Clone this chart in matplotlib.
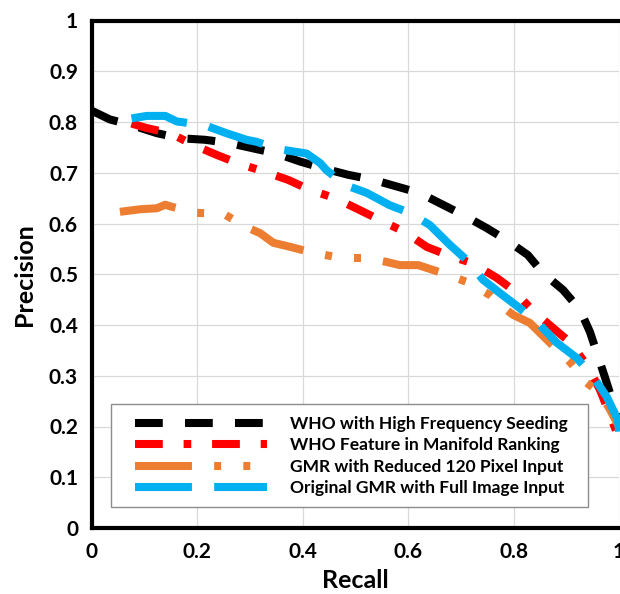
import matplotlib
matplotlib.use("Agg")
import matplotlib.pyplot as plt
from matplotlib.patches import Rectangle

plt.rcParams['font.family'] = ['Lato', 'DejaVu Sans']
plt.rcParams['lines.scale_dashes'] = False

# ---- data ----
labels = ["WHO with High Frequency Seeding",
          "WHO Feature in Manifold Ranking",
          "GMR with Reduced 120 Pixel Input",
          "Original GMR with Full Image Input"]

black_recall = [0, 0.034, 0.075, 0.123, 0.167, 0.214, 0.258, 0.306, 0.350, 0.395, 0.438, 0.486,
                0.534, 0.578, 0.622, 0.66, 0.704, 0.749, 0.787, 0.827, 0.856, 0.894, 0.926,
                0.945, 0.958, 0.973, 0.989, 1.0]
black_prec = [0.822, 0.805, 0.794, 0.778, 0.768, 0.765, 0.759, 0.748, 0.738, 0.722, 0.709, 0.696,
              0.686, 0.673, 0.660, 0.640, 0.617, 0.591, 0.567, 0.538, 0.502, 0.469, 0.430,
              0.386, 0.345, 0.298, 0.246, 0.20]

red_recall = [0.075, 0.104, 0.148, 0.192, 0.237, 0.281, 0.325, 0.372, 0.414, 0.461, 0.507, 0.546,
              0.594, 0.635, 0.674, 0.721, 0.768, 0.799, 0.835, 0.875, 0.907, 0.939, 0.964,
              0.977, 0.995]
red_prec = [0.797, 0.788, 0.778, 0.755, 0.735, 0.717, 0.703, 0.686, 0.666, 0.650, 0.627, 0.607,
            0.583, 0.554, 0.538, 0.522, 0.493, 0.469, 0.430, 0.394, 0.366, 0.321, 0.272,
            0.238, 0.19]

orange_recall = [0.053, 0.091, 0.123, 0.139, 0.151, 0.199, 0.250, 0.290, 0.319, 0.344, 0.376,
                 0.420, 0.474, 0.522, 0.560, 0.584, 0.619, 0.666, 0.711, 0.755, 0.780, 0.799,
                 0.831, 0.869, 0.907, 0.939, 0.964, 0.983, 1.0]
orange_prec = [0.623, 0.628, 0.630, 0.637, 0.633, 0.621, 0.619, 0.594, 0.581, 0.562, 0.554,
               0.542, 0.532, 0.532, 0.524, 0.518, 0.518, 0.502, 0.485, 0.459, 0.435, 0.420,
               0.404, 0.365, 0.327, 0.286, 0.266, 0.233, 0.20]

blue_recall = [0.075, 0.104, 0.139, 0.161, 0.176, 0.218, 0.255, 0.293, 0.312, 0.357, 0.407,
               0.433, 0.445, 0.480, 0.509, 0.522, 0.565, 0.603, 0.641, 0.679, 0.711, 0.742,
               0.774, 0.812, 0.850, 0.882, 0.920, 0.951, 0.977, 0.998, 1.0]
blue_prec = [0.807, 0.812, 0.812, 0.801, 0.799, 0.792, 0.778, 0.765, 0.761, 0.746, 0.738,
             0.719, 0.705, 0.676, 0.665, 0.660, 0.636, 0.621, 0.597, 0.558, 0.528, 0.489,
             0.463, 0.433, 0.400, 0.365, 0.335, 0.298, 0.258, 0.213, 0.19]

xticks = [0, 0.2, 0.4, 0.6, 0.8, 1]
xticklabels = ["0", "0.2", "0.4", "0.6", "0.8", "1"]
yticks = [0, 0.1, 0.2, 0.3, 0.4, 0.5, 0.6, 0.7, 0.8, 0.9, 1]
yticklabels = ["0", "0.1", "0.2", "0.3", "0.4", "0.5", "0.6", "0.7", "0.8", "0.9", "1"]

# ---- figure ----
W, H = 620, 594
fig = plt.figure(figsize=(W / 100, H / 100), dpi=100)
x0, x1, y0, y1 = 92, 619, 528, 20.5
ax = fig.add_axes([x0 / W, (H - y0) / H, (x1 - x0) / W, (y0 - y1) / H])


def ax_x(px):
    return (px - x0) / (x1 - x0)


def ax_y(py):
    return (y0 - py) / (y0 - y1)


lw = 5.8
styles = [
    (black_recall, black_prec, "#000000", (20, 16)),
    (red_recall, red_prec, "#ff0000", (20, 15, 5.5, 15)),
    (orange_recall, orange_prec, "#ed7d31", (41, 16, 5, 16, 5, 16)),
    (blue_recall, blue_prec, "#00b0f0", (41, 16)),
]
for (xs, ys, c, d), lab in zip(styles, labels):
    ax.plot(xs, ys, color=c, lw=lw, dashes=d, dash_capstyle='butt',
            dash_joinstyle='round', label=lab, clip_on=False)

ax.set_xlim(0, 1)
ax.set_ylim(0, 1)
ax.set_xticks(xticks)
ax.set_xticklabels(xticklabels)
ax.set_yticks(yticks)
ax.set_yticklabels(yticklabels)
ax.tick_params(length=0, labelsize=15)
ax.tick_params(axis='x', pad=10)
ax.tick_params(axis='y', pad=10)
for t in ax.get_xticklabels() + ax.get_yticklabels():
    t.set_fontweight('bold')

ax.grid(True, color='#d9d9d9', lw=0.9)
ax.set_axisbelow(True)
for s in ['left', 'top', 'bottom']:
    ax.spines[s].set_linewidth(3)
    ax.spines[s].set_color('black')
ax.spines['right'].set_visible(False)

ax.set_xlabel("Recall", fontsize=18, fontweight='bold', labelpad=5)
ax.set_ylabel("Precision", fontsize=18, fontweight='bold', labelpad=9)

# legend frame drawn as a rectangle, legend content placed inside
frame = Rectangle((ax_x(111), ax_y(507)), ax_x(588) - ax_x(111), ax_y(404) - ax_y(507),
                  transform=ax.transAxes, facecolor='white', edgecolor='#8c8c8c',
                  lw=1, zorder=9, clip_on=False)
ax.add_patch(frame)
leg = ax.legend(loc='center left', bbox_to_anchor=(ax_x(135), ax_y(456)),
                borderaxespad=0, borderpad=0, prop={'weight': 'bold', 'size': 12.5},
                handlelength=7.6, handletextpad=1.3, frameon=False,
                labelspacing=0.32)
leg.set_zorder(10)

fig.savefig("out.png", dpi=100)
